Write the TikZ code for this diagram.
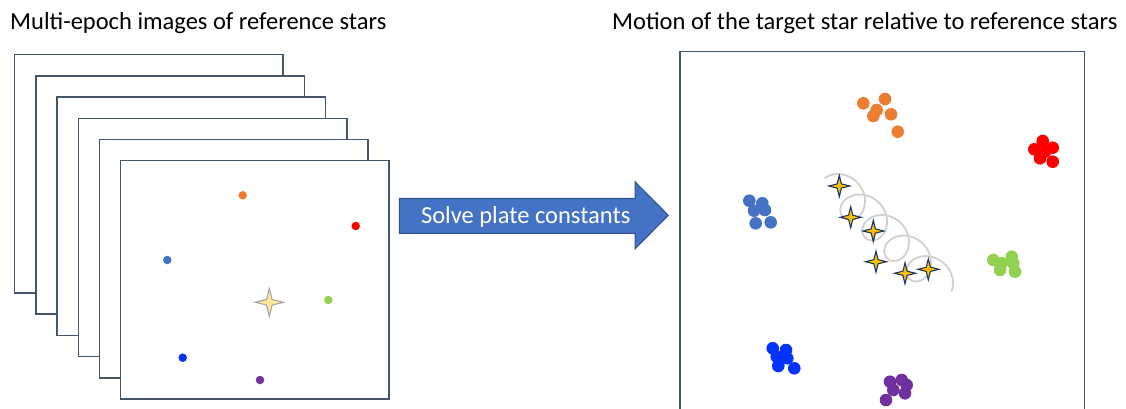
\documentclass[tikz,border=0pt]{standalone}
\usepackage{fontspec}
\setmainfont{Carlito}
\definecolor{frameC}{HTML}{44546A}
\definecolor{orangeC}{HTML}{ED7D31}
\definecolor{redC}{HTML}{FF0000}
\definecolor{steelC}{HTML}{4472C4}
\definecolor{greenC}{HTML}{92D050}
\definecolor{blueC}{HTML}{0433FF}
\definecolor{purpleC}{HTML}{7030A0}
\definecolor{arrowC}{HTML}{4472C4}
\definecolor{arrowB}{HTML}{2F528F}
\definecolor{goldC}{HTML}{FFC000}
\definecolor{navyC}{HTML}{1F3864}
\definecolor{paleC}{HTML}{FFE699}
\definecolor{loopC}{HTML}{D0D0D0}
\newcommand\fourstar[5]{%
  \fill[#4,draw=#5,line width=1.1pt,line join=miter]
    (#1,#2) ++(0,-#3) -- ++(0.2*#3,0.8*#3) -- ++(0.8*#3,0.2*#3)
    -- ++(-0.8*#3,0.2*#3) -- ++(-0.2*#3,0.8*#3) -- ++(-0.2*#3,-0.8*#3)
    -- ++(-0.8*#3,-0.2*#3) -- ++(0.8*#3,-0.2*#3) -- cycle;}
\begin{document}
\begin{tikzpicture}[x=1pt,y=-1pt,
  frame/.style={draw=frameC,line width=1.5pt,fill=white},
  title/.style={font=\fontsize{24.5}{28}\selectfont,anchor=base west,inner sep=0pt},
  sdot/.style={circle,inner sep=0pt,minimum size=8.5pt},
  bdot/.style={circle,inner sep=0pt,minimum size=12.6pt},
  loopline/.style={draw=loopC,line width=1.8pt}]
\useasboundingbox (0,0) rectangle (1126,409);
\clip (0,0) rectangle (1126,409);
% titles
\node[title] (tl) at (10,29.3) {Multi-epoch images of reference stars};
\node[title] (tr) at (612,29.3) {Motion of the target star relative to reference stars};
% stacked frames
\foreach \i in {0,...,5}{
  \draw[frame] (14.7+21.2*\i,54.7+21.2*\i) rectangle ++(268.5,238.3);
}
\node[sdot,fill=orangeC] (o1) at (242.7,195.3) {};
\node[sdot,fill=redC] (r1) at (355.7,226) {};
\node[sdot,fill=steelC] (s1) at (167.3,260) {};
\node[sdot,fill=greenC] (g1) at (328.3,300) {};
\node[sdot,fill=blueC] (b1) at (182.7,357.7) {};
\node[sdot,fill=purpleC] (p1) at (260,380) {};
\fourstar{269.3}{302.3}{14}{paleC}{gray!70}
% arrow
\draw[fill=arrowC,draw=arrowB,line width=1pt,line join=miter]
  (399.3,198.3) -- (635,198.3) -- (635,181.7) -- (668.3,215.3)
  -- (635,249) -- (635,233.3) -- (399.3,233.3) -- cycle;
\node[font=\fontsize{24.5}{28}\selectfont,text=white,anchor=base,inner sep=0pt]
  (at) at (525.7,223.5) {Solve plate constants};
% right panel
\draw[draw=frameC,line width=1.5pt] (680,51.7) rectangle (1084.3,430);
% clusters
\foreach \x/\y in {863.3/103.3,885/99,876.7/110,873.3/116,891/114.3,897.7/131.7}
  \node[bdot,fill=orangeC] at (\x,\y) {};
\foreach \x/\y in {1042.7/141,1034.3/149.3,1052.7/147.7,1040/158.3,1052.7/161.7,1045/151.7}
  \node[bdot,fill=redC] at (\x,\y) {};
\foreach \x/\y in {749.3/200.7,762.3/203.3,754/210.7,765/210,755.7/223.3,770.7/222.3}
  \node[bdot,fill=steelC] at (\x,\y) {};
\foreach \x/\y in {993.3/260,1001.7/263.3,1011.7/256.7,1013.3/263.3,1000/270,1015/271.7}
  \node[bdot,fill=greenC] at (\x,\y) {};
\foreach \x/\y in {772.7/348.3,786/350,776.7/356.7,787.3/358.3,778.3/366,794.3/368.3}
  \node[bdot,fill=blueC] at (\x,\y) {};
\foreach \x/\y in {890/381.7,901.7/380,906.7/385,893.3/390,905/393.3,886/400}
  \node[bdot,fill=purpleC] at (\x,\y) {};
% loop path
\draw[loopline] plot[domain=-0.3:4.2,samples=400,variable=\t]
  ({845+22*\t+17.5*cos(360*\t-35)},{195+20.5*\t+17.5*sin(360*\t-35)});
% target star positions
\fourstar{839.3}{186}{10.5}{goldC}{navyC}
\fourstar{850.7}{217.3}{10.5}{goldC}{navyC}
\fourstar{873.3}{231}{10.5}{goldC}{navyC}
\fourstar{876}{261.7}{10.5}{goldC}{navyC}
\fourstar{905}{273.3}{10.5}{goldC}{navyC}
\fourstar{928.3}{269.3}{10.5}{goldC}{navyC}
\end{tikzpicture}
\end{document}
